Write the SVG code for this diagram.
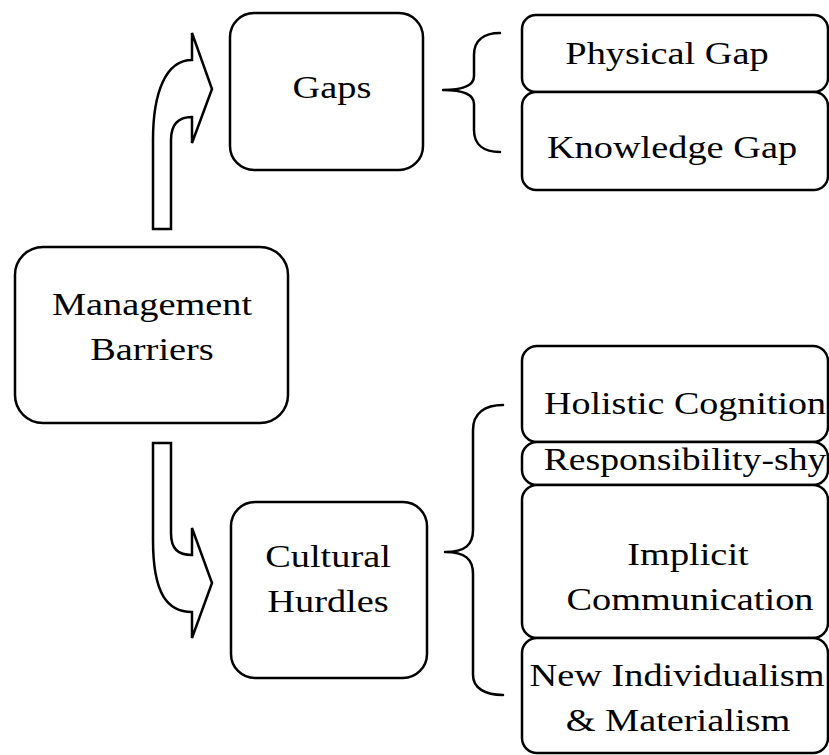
<svg xmlns="http://www.w3.org/2000/svg" width="829" height="755" viewBox="0 0 829 755">
<style>
.box{fill:#fff;stroke:#000;stroke-width:2.5}
.ln{fill:none;stroke:#000;stroke-width:2.5;stroke-linejoin:round;stroke-linecap:round}
.arr{fill:#fff;stroke:#000;stroke-width:2.5;stroke-linejoin:miter}
text{font-family:"Liberation Serif","Times New Roman",serif;font-size:32.5px;fill:#000;text-anchor:middle}
</style>
<rect width="829" height="755" fill="#fff"/>
<g id="connectors">
<path class="arr" d="M153,229 L153,140 C153,92 166,60 192,60 L192,33 L212,89 L192,143 L192,117 C178,117 171,124 171,140 L171,229 Z"/>
<path class="arr" d="M153,443 L171,443 L171,533 C171,549 178,555 192,555 L192,528 L212,583 L192,638 L192,612 C168,612 153,595 153,540 Z"/>
<path class="ln" d="M500,33 C484,33 474,40 474,55 L474,76 C474,85 464,90 443,90 C464,90 474,95 474,104 L474,130 C474,145 484,152 500,152"/>
<path class="ln" d="M503,405 C485,405 473,413 473,430 L473,530 C473,545 465,552 445,552 C465,552 473,559 473,574 L473,675 C473,688 485,695 503,695"/>
</g>
<g id="gaps">
<rect class="box" x="230" y="13" width="193" height="157" rx="24"/>
<text transform="translate(332 98) scale(1.18 1)">Gaps</text>
</g>
<g id="physical-gap">
<rect class="box" x="522" y="15" width="306" height="77" rx="14"/>
<text transform="translate(667 64) scale(1.18 1)">Physical Gap</text>
</g>
<g id="knowledge-gap">
<rect class="box" x="522" y="92" width="306" height="98" rx="14"/>
<text transform="translate(672 158) scale(1.18 1)">Knowledge Gap</text>
</g>
<g id="management-barriers">
<rect class="box" x="15" y="247" width="273" height="176" rx="28"/>
<text transform="translate(152 315) scale(1.18 1)">Management</text>
<text transform="translate(152 360) scale(1.18 1)">Barriers</text>
</g>
<g id="cultural-hurdles">
<rect class="box" x="231" y="502" width="196" height="176" rx="24"/>
<text transform="translate(328 567) scale(1.18 1)">Cultural</text>
<text transform="translate(328 612) scale(1.18 1)">Hurdles</text>
</g>
<g id="holistic-cognition">
<rect class="box" x="522" y="346" width="306" height="96" rx="15"/>
<text transform="translate(685 414) scale(1.17 1)">Holistic Cognition</text>
</g>
<g id="responsibility-shy">
<rect class="box" x="522" y="442" width="306" height="43" rx="15"/>
<text transform="translate(685 470) scale(1.16 1)">Responsibility-shy</text>
</g>
<g id="implicit-communication">
<rect class="box" x="522" y="485" width="306" height="153" rx="15"/>
<text transform="translate(688 565) scale(1.18 1)">Implicit</text>
<text transform="translate(690 610) scale(1.18 1)">Communication</text>
</g>
<g id="new-individualism">
<rect class="box" x="522" y="638" width="306" height="115" rx="15"/>
<text transform="translate(677 686) scale(1.18 1)">New Individualism</text>
<text transform="translate(678 731) scale(1.18 1)">&amp; Materialism</text>
</g>
</svg>
